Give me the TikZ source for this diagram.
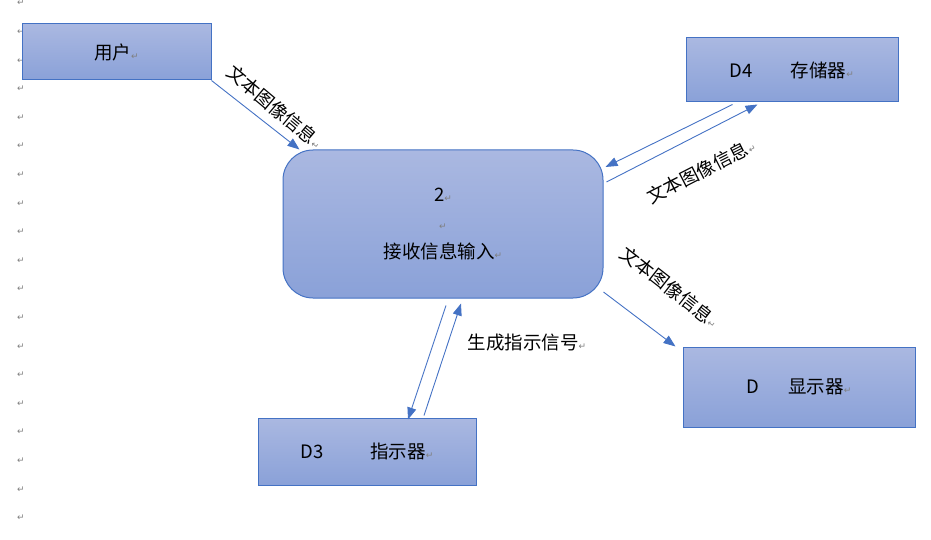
\documentclass[tikz,border=0pt]{standalone}
\usepackage{fontspec}
\setmainfont{Noto Sans CJK SC}
\newfontfamily\djv{DejaVu Sans}
\usetikzlibrary{arrows.meta,calc}
\definecolor{edgeblue}{HTML}{4472C4}
\definecolor{filltop}{HTML}{AAB8E1}
\definecolor{fillbot}{HTML}{8AA1D8}
\definecolor{markgray}{HTML}{7F7F7F}
\newcommand\pmark{{\djv\fontsize{9}{9}\selectfont\textcolor{markgray}{↵}}}
\tikzset{
  box/.style={draw=edgeblue, line width=1pt, top color=filltop, bottom color=fillbot,
    inner sep=0pt, font=\fontsize{18.5}{20}\selectfont, text=black},
  proc/.style={box, rounded corners=30pt, align=center, font=\fontsize{18.5}{28.5}\selectfont},
  flow/.style={draw=edgeblue, line width=0.9pt, -{Triangle[length=12pt,width=9pt]}},
  lbl/.style={font=\fontsize{18.5}{20}\selectfont, inner sep=0pt, text=black},
  pmk/.style={inner sep=0pt}
}
\begin{document}
\begin{tikzpicture}[x=1pt,y=-1pt]
\useasboundingbox (0,0) rectangle (931,540);
% paragraph marks in the left margin
\foreach \i in {0,...,18}{
  \node[pmk] (pm\i) at (21,{3+28.6*\i}) {\pmark};
}
% boxes
\node[box, minimum width=189pt, minimum height=56pt] (user) at (116.5,52) {用户\pmark};
\node[box, minimum width=212pt, minimum height=64pt] (store) at (792,70) {D4\hspace{38pt}存储器\pmark};
\node[box, minimum width=232pt, minimum height=80pt] (disp) at (799,387) {D\hspace{29pt}显示器\pmark};
\node[box, minimum width=218pt, minimum height=67pt] (ind) at (367,451.5) {D3\hspace{47pt}指示器\pmark};
\node[proc, minimum width=320pt, minimum height=148pt] (proc) at (443,224) {2\pmark\\\pmark\\接收信息输入\pmark};
% connectors
\draw[flow] (user.south east) -- ([xshift=17pt]proc.north west);
\draw[flow] ([xshift=47pt,yshift=-2pt]store.south west) -- ([xshift=2pt,yshift=57pt]proc.east);
\draw[flow] ([xshift=3pt,yshift=42pt]proc.east) -- ([xshift=72pt,yshift=-2pt]store.south west);
\draw[flow] ([yshift=-68pt]proc.east) -- ([xshift=-7pt]disp.north west);
\draw[flow] ([xshift=3pt,yshift=-7pt]proc.south) -- ([xshift=41pt,yshift=-2pt]ind.north);
\draw[flow] ([xshift=57pt,yshift=2pt]ind.north) -- ([xshift=18pt,yshift=-5pt]proc.south);
% labels
\node[lbl, rotate=-40] (l1) at (275,107) {文本图像信息\pmark};
\node[lbl, rotate=27] (l2) at (701,171) {文本图像信息\pmark};
\node[lbl, rotate=-38] (l3) at (670,287) {文本图像信息\pmark};
\node[lbl] (l4) at (527,343) {生成指示信号\pmark};
\end{tikzpicture}
\end{document}
